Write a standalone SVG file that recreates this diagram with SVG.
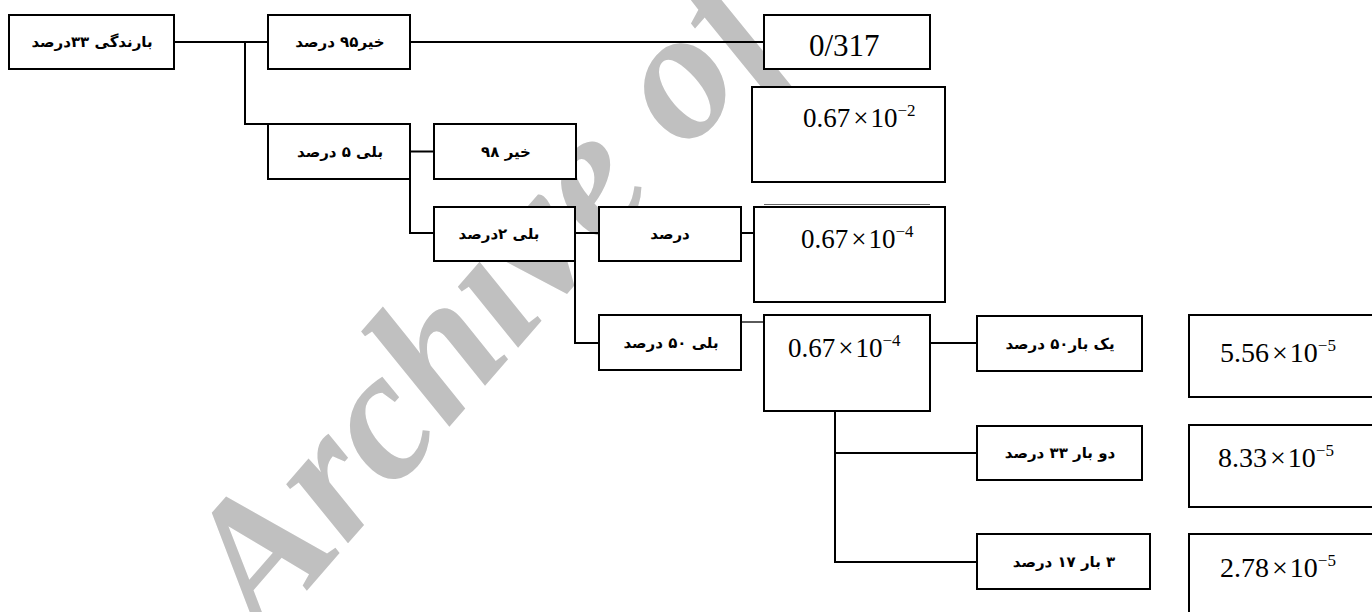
<svg xmlns="http://www.w3.org/2000/svg" width="1372" height="612" viewBox="0 0 1372 612">
<style>
.box{fill:#fff;stroke:#000;stroke-width:2}
.lbl{font-family:"DejaVu Sans",sans-serif;font-weight:bold;font-size:15px;fill:#000;text-anchor:middle}
.sci{font-family:"Liberation Serif","Times New Roman",serif;font-size:27px;fill:#000}
.sci28{font-size:28px}
.sup{font-size:17px}
.conn path{fill:none;stroke:#000;stroke-width:2}
.wm{font-family:"Liberation Serif","Times New Roman",serif;font-style:italic;font-weight:bold;font-size:186px;fill:#c0c0c0}
</style>
<rect width="1372" height="612" fill="#fff"/>
<text class="wm" transform="translate(264,640) rotate(-49)">Archive of</text>
<g class="conn" id="connectors">
<path d="M174 42H268"/>
<path d="M245 42V124H268"/>
<path d="M410 42H764"/>
<path d="M410 151.5H434"/>
<path d="M410 179V233H434"/>
<path d="M575 233H599"/>
<path d="M575 261V343H599"/>
<path d="M741 233H754"/>
<path d="M741 322H764" style="stroke-width:1.3"/>
<path d="M930 343H977"/>
<path d="M835 411V562H977"/>
<path d="M835 453H977"/>
<path d="M764 204.5H930" style="stroke-width:1;stroke:#666"/>
</g>
<g id="n-rain"><rect class="box" x="9" y="15" width="165" height="54"/><text class="lbl" x="92" y="47" direction="rtl">بارندگی ۳۳درصد</text></g>
<g id="n-no95"><rect class="box" x="268" y="15" width="142" height="54"/><text class="lbl" x="340" y="47" direction="rtl">خیر۹۵ درصد</text></g>
<g id="n-v0317"><rect class="box" x="764" y="15" width="166" height="54"/><text class="sci" x="809" y="56" style="font-size:31px">0/317</text></g>
<g id="n-v067m2"><rect class="box" x="752" y="87" width="193" height="95"/><text class="sci" x="803" y="127">0.67<tspan dx="3">×</tspan><tspan dx="2">10</tspan><tspan class="sup" dy="-11">−2</tspan></text></g>
<g id="n-yes5"><rect class="box" x="268" y="124" width="142" height="55"/><text class="lbl" x="340" y="157" direction="rtl">بلی  ۵ درصد</text></g>
<g id="n-no98"><rect class="box" x="434" y="124" width="142" height="55"/><text class="lbl" x="506" y="157" direction="rtl">خیر  ۹۸</text></g>
<g id="n-yes2"><rect class="box" x="434" y="207" width="141" height="54"/><text class="lbl" x="499" y="239" direction="rtl">بلی  ۲درصد</text></g>
<g id="n-percent"><rect class="box" x="599" y="207" width="142" height="54"/><text class="lbl" x="670" y="239" direction="rtl">درصد</text></g>
<g id="n-v067m4a"><rect class="box" x="754" y="207" width="191" height="95"/><text class="sci" x="801" y="248">0.67<tspan dx="3">×</tspan><tspan dx="2">10</tspan><tspan class="sup" dy="-11">−4</tspan></text></g>
<g id="n-yes50"><rect class="box" x="599" y="315" width="142" height="55"/><text class="lbl" x="671" y="348" direction="rtl">بلی  ۵۰ درصد</text></g>
<g id="n-v067m4b"><rect class="box" x="764" y="315" width="166" height="96"/><text class="sci" x="788" y="357">0.67<tspan dx="3">×</tspan><tspan dx="2">10</tspan><tspan class="sup" dy="-11">−4</tspan></text></g>
<g id="n-once"><rect class="box" x="977" y="316" width="165" height="55"/><text class="lbl" x="1060" y="349" direction="rtl">یک بار۵۰ درصد</text></g>
<g id="n-twice"><rect class="box" x="977" y="426" width="165" height="54"/><text class="lbl" x="1060" y="458" direction="rtl">دو بار ۳۳ درصد</text></g>
<g id="n-thrice"><rect class="box" x="977" y="534" width="173" height="55"/><text class="lbl" x="1064" y="567" direction="rtl">۳ بار ۱۷ درصد</text></g>
<g id="n-v556"><rect class="box" x="1189" y="315" width="200" height="82"/><text class="sci sci28" x="1220" y="362">5.56<tspan dx="3">×</tspan><tspan dx="2">10</tspan><tspan class="sup" dy="-11">−5</tspan></text></g>
<g id="n-v833"><rect class="box" x="1189" y="425" width="200" height="82"/><text class="sci sci28" x="1218" y="467">8.33<tspan dx="3">×</tspan><tspan dx="2">10</tspan><tspan class="sup" dy="-11">−5</tspan></text></g>
<g id="n-v278"><rect class="box" x="1189" y="534" width="200" height="100"/><text class="sci sci28" x="1220" y="577">2.78<tspan dx="3">×</tspan><tspan dx="2">10</tspan><tspan class="sup" dy="-11">−5</tspan></text></g>
</svg>
